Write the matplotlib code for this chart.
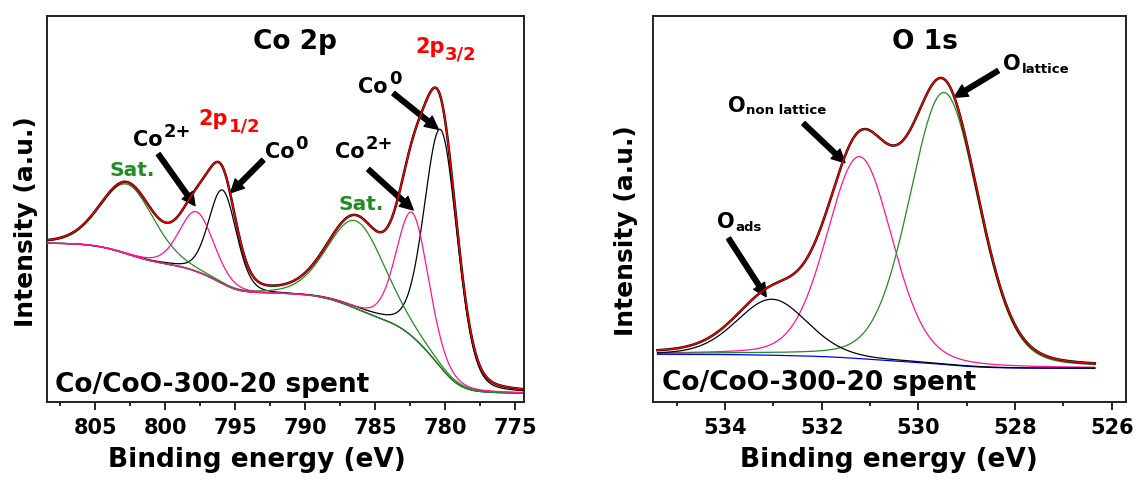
import numpy as np
import matplotlib.pyplot as plt
from matplotlib.ticker import MultipleLocator

plt.rcParams['font.family'] = ['DejaVu Sans']
plt.rcParams['font.weight'] = 'bold'

# ---- Co 2p fit
co_span = (808.43, 774.5)          # recorded energy window (eV)
co_bg_ends = (159.0, 9.0)          # Shirley end points: high BE, low BE
co_center = [802.7, 797.76, 795.9, 786.35, 782.35, 780.3]
co_height = [70, 60, 94, 88, 124, 238]
co_fwhm = [4.5, 2.9, 2.35, 4.8, 2.7, 2.8]
co_kind = ['sat', 'Co2+', 'Co0', 'sat', 'Co2+', 'Co0']

# ---- O 1s fit
o_span = (535.4, 526.35)
o_bg_ends = (48.0, 34.0)
o_center = [533.03, 531.22, 529.47]
o_height = [56, 202, 272]
o_fwhm = [1.73, 1.6, 1.69]
o_kind = ['ads', 'non lattice', 'lattice']

GL_MIX = 0.2
GREEN = '#228b22'
PINK = '#ff1493'
YMAX = 386.3


def gl(e, c, h, w):
    x = (e - c) / w
    return h * ((1 - GL_MIX) * np.exp(-4 * np.log(2) * x ** 2) + GL_MIX / (1 + 4 * x ** 2))


def fit_curves(span, bg_ends, centers, heights, fwhms):
    e = np.linspace(span[0], span[1], 2000)
    peaks = [gl(e, c, h, w) for c, h, w in zip(centers, heights, fwhms)]
    total = np.sum(peaks, axis=0)
    low_side = np.cumsum(total[::-1])[::-1]
    bg = bg_ends[1] + (bg_ends[0] - bg_ends[1]) * low_side / low_side[0]
    return e, bg, peaks, bg + total


def label(ax, x, y, main, script, dy, size=15, ssize=13, color='black'):
    t = ax.text(x, y, main, fontsize=size, color=color, ha='left', va='baseline')
    ax.annotate(script, xy=(1, 0), xycoords=t, xytext=(0.5, dy),
                textcoords='offset points', fontsize=ssize, color=color,
                ha='left', va='baseline')


def arrow(ax, tail, head):
    ax.annotate('', xy=head, xytext=tail,
                arrowprops=dict(arrowstyle='simple,head_length=0.52,head_width=0.52,tail_width=0.19',
                                mutation_scale=18, color='black', shrinkA=0, shrinkB=0))


def style(ax, xlim, major, minor):
    ax.set_xlim(*xlim)
    ax.set_ylim(0, YMAX)
    ax.set_yticks([])
    ax.xaxis.set_major_locator(MultipleLocator(major))
    ax.xaxis.set_minor_locator(MultipleLocator(minor))
    ax.tick_params(axis='x', which='major', direction='out', length=5.5, width=1.2,
                   pad=6, labelsize=15)
    ax.tick_params(axis='x', which='minor', direction='out', length=3, width=1.2)
    for s in ax.spines.values():
        s.set_linewidth(1.4)
        s.set_color('#222222')


fig = plt.figure(figsize=(11.39, 4.87), dpi=100)
ax1 = fig.add_axes([0.0415, 0.1739, 0.4189, 0.7932])
ax2 = fig.add_axes([0.5730, 0.1739, 0.4158, 0.7932])

# ---------------- Co 2p
e, bg, peaks, env = fit_curves(co_span, co_bg_ends, co_center, co_height, co_fwhm)
colors = {'sat': GREEN, 'Co2+': PINK, 'Co0': 'black'}
order = {'Co0': 2, 'sat': 3, 'Co2+': 4}
for i, (p, kind) in enumerate(zip(peaks, co_kind)):
    y = bg + p
    if i == 1:
        y = np.where(e >= 790, y, np.nan)
    ax1.plot(e, y, color=colors[kind], lw=0.9, zorder=order[kind])
ax1.plot(e, env, color='black', lw=1.8, zorder=5)
ax1.plot(e, env, color='red', lw=1.0, zorder=6)

ax1.text(790.74, 353, 'Co 2p', ha='center', va='baseline', fontsize=19)
label(ax1, 782.16, 349, '2p', '3/2', -1.8, color='red')
label(ax1, 797.64, 277.3, '2p', '1/2', -1.8, color='red')
label(ax1, 786.21, 309.6, 'Co', '0', 9.3)
label(ax1, 787.88, 244, 'Co', '2+', 9.3)
label(ax1, 802.29, 256.3, 'Co', '2+', 9.3)
label(ax1, 792.9, 244, 'Co', '0', 9.3)
ax1.text(787.64, 192.3, 'Sat.', color=GREEN, fontsize=14.5, va='baseline')
ax1.text(804.0, 226.6, 'Sat.', color=GREEN, fontsize=14.5, va='baseline')
ax1.text(807.88, 10.6, 'Co/CoO-300-20 spent', fontsize=19, va='baseline')

arrow(ax1, (783.71, 309), (780.5, 273))
arrow(ax1, (785.5, 233), (782.29, 192.3))
arrow(ax1, (800.5, 248.3), (797.88, 196.6))
arrow(ax1, (793.0, 242.3), (795.33, 209.6))
style(ax1, (808.43, 774.35), 5, 2.5)

# ---------------- O 1s
e, bg, peaks, env = fit_curves(o_span, o_bg_ends, o_center, o_height, o_fwhm)
ocolors = {'ads': 'black', 'non lattice': PINK, 'lattice': GREEN}
oorder = {'ads': 4, 'non lattice': 2, 'lattice': 2}
for p, kind in zip(peaks, o_kind):
    ax2.plot(e, bg + p, color=ocolors[kind], lw=0.9, zorder=oorder[kind])
ax2.plot(e, bg, color='blue', lw=0.9, zorder=3)
ax2.plot(e, env, color='black', lw=1.8, zorder=5)
ax2.plot(e, env, color='red', lw=1.0, zorder=6)

ax2.text(529.86, 353, 'O 1s', ha='center', va='baseline', fontsize=19)
label(ax2, 528.24, 332.3, 'O', 'lattice', 1.0, ssize=9.5)
label(ax2, 533.95, 290.6, 'O', 'non lattice', 1.0, ssize=9.5)
label(ax2, 534.16, 174, 'O', 'ads', 1.0, ssize=9.5)
ax2.text(535.31, 12.3, 'Co/CoO-300-20 spent', fontsize=19, va='baseline')

arrow(ax2, (528.35, 331.6), (529.26, 305))
arrow(ax2, (532.38, 279), (531.52, 239.6))
arrow(ax2, (533.93, 164), (533.15, 105.6))
style(ax2, (535.5, 525.7), 2, 1)

# axis titles placed as in the original
fig.text(26.4 / 1139, 1 - 222 / 487, 'Intensity (a.u.)', rotation=90,
         ha='center', va='center', fontsize=18)
fig.text(626.5 / 1139, 1 - 231 / 487, 'Intensity (a.u.)', rotation=90,
         ha='center', va='center', fontsize=18)
fig.text(256.8 / 1139, 1 - 466.7 / 487, 'Binding energy (eV)',
         ha='center', va='baseline', fontsize=19)
fig.text(889 / 1139, 1 - 466.7 / 487, 'Binding energy (eV)',
         ha='center', va='baseline', fontsize=19)

fig.savefig('out.png', dpi=100)
